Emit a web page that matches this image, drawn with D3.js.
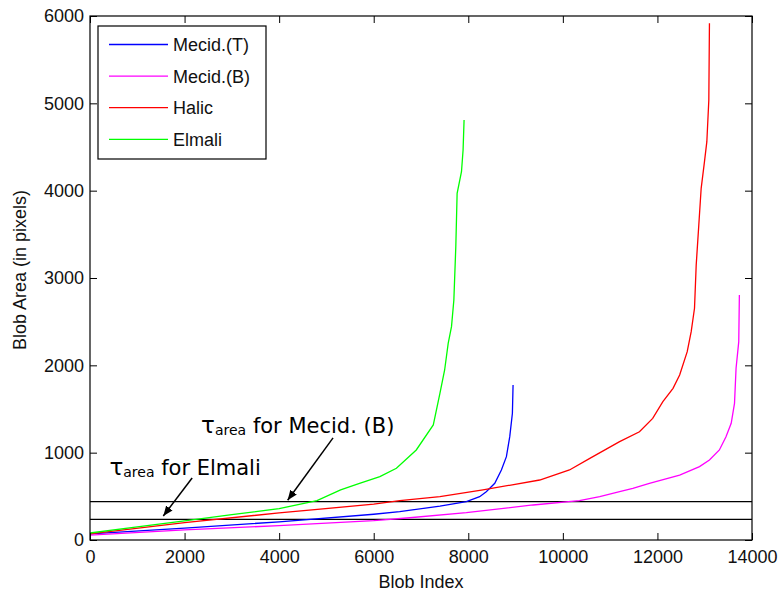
<!DOCTYPE html>
<html>
<head>
<meta charset="utf-8">
<script src="https://d3js.org/d3.v7.min.js"></script>
<style>
  body { margin: 0; background: #fff; }
  .tick text { font-family: "Liberation Sans", Arial, sans-serif; }
</style>
</head>
<body>
<div id="chart"></div>
<script>
// sorted blob areas: [blob index, area in pixels]
var mecidT = [[0, 70], [2000, 137], [4000, 208], [6000, 295], [6550, 324], [7400, 389], [7960, 439],
  [8240, 496], [8380, 553], [8560, 649], [8700, 802], [8806, 954], [8877, 1183], [8933, 1451], [8947, 1775]];
var mecidB = [[0, 55], [2000, 115], [4000, 165], [6000, 222], [6700, 252], [7960, 313], [9370, 401],
  [10350, 450], [10780, 496], [11200, 553], [11480, 592], [11830, 649], [12470, 744], [12890, 840],
  [13100, 916], [13310, 1031], [13450, 1183], [13560, 1336], [13630, 1565], [13663, 1966], [13720, 2271], [13733, 2805]];
var halic = [[0, 70], [2000, 200], [4000, 310], [6000, 410], [6550, 450], [7400, 496], [8310, 573],
  [9510, 687], [10140, 802], [10570, 935], [11200, 1126], [11620, 1240], [11900, 1393], [12115, 1584],
  [12330, 1737], [12470, 1889], [12630, 2156], [12714, 2385], [12784, 2653], [12820, 3149], [12875, 3607],
  [12925, 4027], [12995, 4332], [13045, 4561], [13087, 5038], [13100, 5916]];
var elmali = [[0, 80], [1000, 150], [2000, 220], [3000, 290], [4000, 360], [4800, 450], [5300, 573],
  [5700, 649], [6130, 725], [6480, 821], [6900, 1031], [7260, 1317], [7400, 1680], [7500, 1947],
  [7575, 2252], [7645, 2443], [7695, 2748], [7736, 3358], [7764, 3970], [7856, 4217], [7890, 4466], [7911, 4809]];

var seriesNames = ["Mecid.(T)", "Mecid.(B)", "Halic", "Elmali"];
var seriesColors = ["#0000ff", "#ff00ff", "#ff0000", "#00ff00"];
var thresholds = [440, 237];   // tau_area for Mecid.(B), for Elmali
var xTicks = [0, 2000, 4000, 6000, 8000, 10000, 12000, 14000];
var yTicks = [0, 1000, 2000, 3000, 4000, 5000, 6000];

var W = 780, H = 595;
var margin = {top: 16, right: 28, bottom: 55, left: 90};
var width = W - margin.left - margin.right,
    height = H - margin.top - margin.bottom;

var svg = d3.select("#chart").append("svg")
    .attr("width", W).attr("height", H);
var g = svg.append("g")
    .attr("transform", "translate(" + margin.left + "," + margin.top + ")");

var x = d3.scaleLinear().domain([0, 14000]).range([0, width]);
var y = d3.scaleLinear().domain([0, 6000]).range([height, 0]);

// threshold lines
g.selectAll(".thr").data(thresholds).enter().append("line")
    .attr("x1", 0).attr("x2", width)
    .attr("y1", function(d) { return y(d); })
    .attr("y2", function(d) { return y(d); })
    .attr("stroke", "#000").attr("stroke-width", 1.2);

// curves
var series = [mecidT, mecidB, halic, elmali];
var line = d3.line()
    .x(function(d) { return x(d[0]); })
    .y(function(d) { return y(d[1]); });
g.selectAll(".curve").data(series).enter().append("path")
    .attr("d", line)
    .attr("fill", "none")
    .attr("stroke", function(d, i) { return seriesColors[i]; })
    .attr("stroke-width", 1.3);

// axes, ticks inward on all four sides
function styleAxis(sel) {
  sel.select(".domain").remove();
  sel.selectAll(".tick line").attr("stroke", "#000");
  sel.selectAll(".tick text").attr("font-size", 18).attr("fill", "#111");
}
g.append("g").attr("transform", "translate(0," + height + ")")
    .call(d3.axisBottom(x).tickValues(xTicks).tickFormat(d3.format("d")).tickSize(-7).tickPadding(10))
    .call(styleAxis);
g.append("g")
    .call(d3.axisTop(x).tickValues(xTicks).tickSize(-7).tickFormat(""))
    .call(styleAxis);
g.append("g")
    .call(d3.axisLeft(y).tickValues(yTicks).tickFormat(d3.format("d")).tickSize(-7).tickPadding(6))
    .call(styleAxis);
g.append("g").attr("transform", "translate(" + width + ",0)")
    .call(d3.axisRight(y).tickValues(yTicks).tickSize(-7).tickFormat(""))
    .call(styleAxis);

g.append("rect")
    .attr("width", width).attr("height", height)
    .attr("fill", "none").attr("stroke", "#000").attr("stroke-width", 1.2);

// axis labels
svg.append("text")
    .attr("x", margin.left + width / 2).attr("y", 588)
    .attr("text-anchor", "middle")
    .attr("font-family", "Liberation Sans, Arial, sans-serif")
    .attr("font-size", 18).attr("fill", "#111")
    .text("Blob Index");
svg.append("text")
    .attr("transform", "translate(26," + 270 + ") rotate(-90)")
    .attr("text-anchor", "middle")
    .attr("font-family", "Liberation Sans, Arial, sans-serif")
    .attr("font-size", 18).attr("fill", "#111")
    .text("Blob Area (in pixels)");

// legend
var leg = svg.append("g").attr("transform", "translate(98,26)");
leg.append("rect").attr("width", 168).attr("height", 133)
    .attr("fill", "#fff").attr("stroke", "#000").attr("stroke-width", 1.2);
var items = leg.selectAll(".item").data(seriesNames).enter().append("g")
    .attr("transform", function(d, i) { return "translate(0," + (18.5 + i * 31.6) + ")"; });
items.append("line")
    .attr("x1", 11).attr("x2", 70)
    .attr("stroke", function(d, i) { return seriesColors[i]; })
    .attr("stroke-width", 1.3);
items.append("text")
    .attr("x", 75).attr("y", 6.5)
    .attr("font-family", "Liberation Sans, Arial, sans-serif")
    .attr("font-size", 18).attr("fill", "#111")
    .text(function(d) { return d; });

// annotations
svg.append("defs").append("marker")
    .attr("id", "head").attr("viewBox", "0 0 10 10")
    .attr("refX", 10).attr("refY", 5)
    .attr("markerWidth", 10).attr("markerHeight", 10)
    .attr("markerUnits", "userSpaceOnUse")
    .attr("orient", "auto")
  .append("path").attr("d", "M0,1 L10,5 L0,9 Z").attr("fill", "#000");

var notes = [
  {label: "for Mecid. (B)", at: [2350, 1225], from: [5140, 1170], to: [4180, 455]},
  {label: "for Elmali", at: [410, 745], from: [2160, 710], to: [1550, 275]}
];
notes.forEach(function(n) {
  g.append("line")
      .attr("x1", x(n.from[0])).attr("y1", y(n.from[1]))
      .attr("x2", x(n.to[0])).attr("y2", y(n.to[1]))
      .attr("stroke", "#000").attr("stroke-width", 1.5)
      .attr("marker-end", "url(#head)");
  var t = g.append("text")
      .attr("x", x(n.at[0])).attr("y", y(n.at[1]))
      .attr("font-family", "DejaVu Sans, sans-serif")
      .attr("fill", "#000");
  t.append("tspan").attr("font-size", 23).text("\u03c4");
  t.append("tspan").attr("font-size", 14).attr("dy", 2).text("area");
  t.append("tspan").attr("font-size", 21).attr("dy", -2).text(" " + n.label);
});
</script>
</body>
</html>
